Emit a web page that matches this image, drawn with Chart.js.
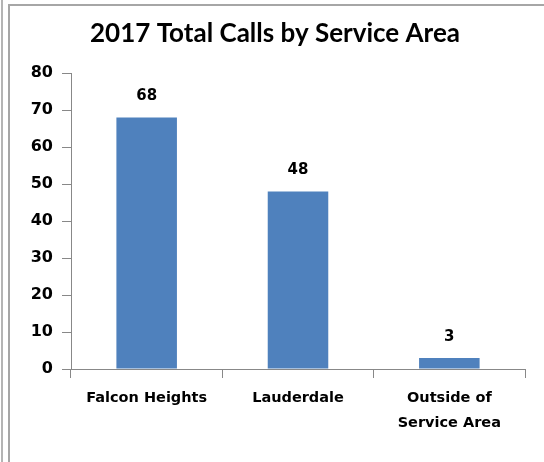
<!DOCTYPE html>
<html>
<head>
<meta charset="utf-8">
<script src="https://cdn.jsdelivr.net/npm/chart.js@4"></script>
<style>
    html, body { margin: 0; padding: 0; background: #fff; width: 544px; height: 462px; overflow: hidden; }
    .edge { position: absolute; left: 1px; top: 0; width: 2px; height: 462px; background: #b4b4b4; }
    .frame { position: absolute; left: 8px; top: 4px; width: 536px; height: 458px; border-left: 2px solid #a6a6a6; border-top: 2px solid #a6a6a6; }
    .frame canvas { display: block; }
</style>
</head>
<body>
<div class="edge"></div>
<div class="frame"><canvas id="callsChart" width="534" height="456"></canvas></div>
<script>
// 2017 calls per service area
const areas = ['Falcon Heights', 'Lauderdale', ['Outside of', 'Service Area']];
const calls = [68, 48, 3];
const yTicks = [0, 10, 20, 30, 40, 50, 60, 70, 80];

const axisGray = '#888888';
const titleFont = 'Lato, "Open Sans", sans-serif';
const labelFont = '"DejaVu Sans", sans-serif';

// value labels above each bar
const barValues = {
    id: 'barValues',
    afterDatasetsDraw(chart) {
        const ctx = chart.ctx;
        const meta = chart.getDatasetMeta(0);
        ctx.save();
        ctx.font = 'bold 15px ' + labelFont;
        ctx.fillStyle = '#000';
        ctx.textAlign = 'center';
        ctx.textBaseline = 'middle';
        meta.data.forEach(function (bar, i) {
            ctx.fillText(calls[i], bar.x, bar.y - 21);
        });
        ctx.restore();
    }
};

new Chart(document.getElementById('callsChart'), {
    type: 'bar',
    data: {
        labels: areas,
        datasets: [{
            data: calls,
            backgroundColor: '#4F81BD',
            borderWidth: 0,
            categoryPercentage: 1,
            barPercentage: 0.4
        }]
    },
    options: {
        responsive: false,
        animation: false,
        layout: { padding: { top: 0, right: 19, bottom: 20, left: 15 } },
        plugins: {
            legend: { display: false },
            tooltip: { enabled: false },
            title: {
                display: true,
                text: '2017 Total Calls by Service Area',
                color: '#000',
                font: { family: titleFont, size: 26, weight: 'bold' },
                padding: { top: 12, bottom: 24 }
            }
        },
        scales: {
            x: {
                grid: { offset: true, drawOnChartArea: false, drawTicks: true, tickLength: 9, color: axisGray, lineWidth: 1 },
                border: { color: axisGray, width: 1 },
                ticks: { color: '#000', padding: 8, maxRotation: 0, font: { family: labelFont, size: 14.5, weight: 'bold', lineHeight: 1.7 } },
                afterFit(scale) { scale.height = 73; }
            },
            y: {
                min: 0,
                max: 80,
                afterBuildTicks(scale) { scale.ticks = yTicks.map(v => ({ value: v })); },
                grid: { drawOnChartArea: false, drawTicks: true, tickLength: 9, color: axisGray, lineWidth: 1 },
                border: { color: axisGray, width: 1 },
                ticks: { color: '#000', padding: 9, font: { family: labelFont, size: 16, weight: 'bold' } },
                afterFit(scale) { scale.width = 46; }
            }
        }
    },
    plugins: [barValues]
});
</script>
</body>
</html>
